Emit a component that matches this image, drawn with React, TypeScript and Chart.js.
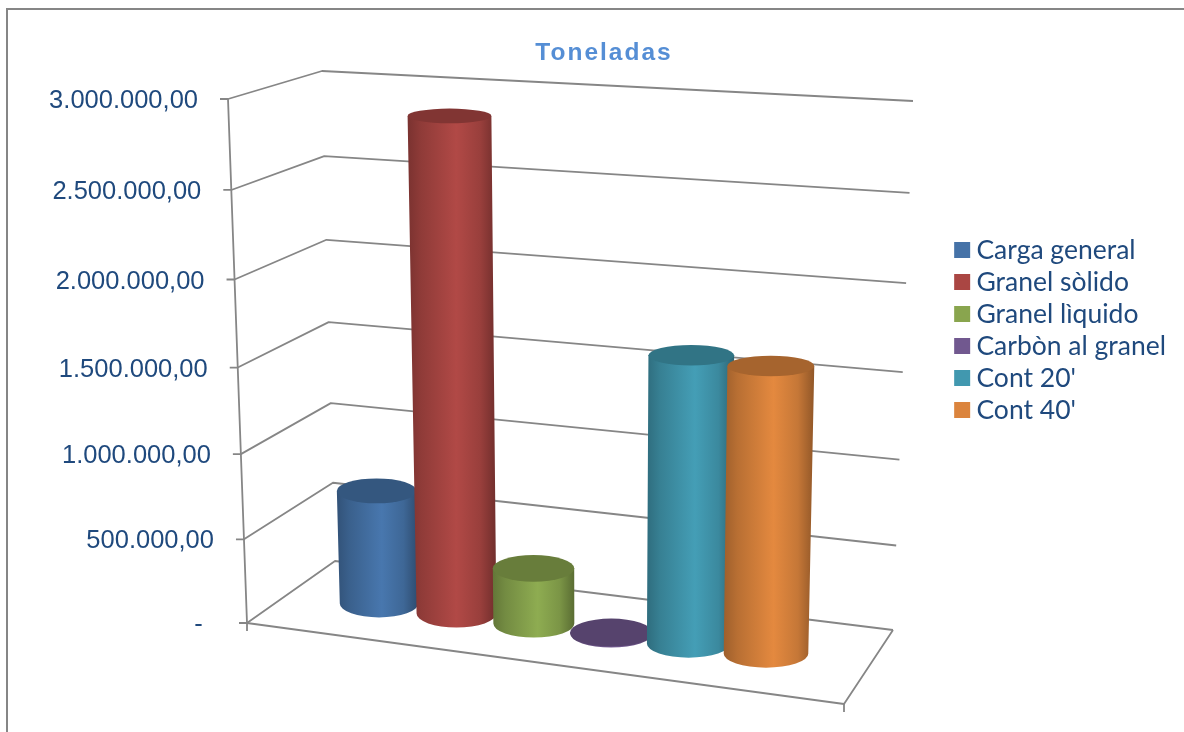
import React, { useEffect, useRef } from "react";
import { Chart, registerables, BarController, BarElement, LinearScale } from "chart.js";

const categories = ["Toneladas"];
const seriesNames = ["Carga general", "Granel sòlido", "Granel lìquido", "Carbòn al granel", "Cont 20'", "Cont 40'"];
const seriesValues = [684000, 2881000, 330000, 6000, 1650000, 1630000];
const seriesColors = ["#4572A7", "#AA4643", "#89A54E", "#71588F", "#4198AF", "#DB843D"];
const axisMax = 3000000;
const axisStep = 500000;

// Corners of the 3D plot box on the canvas: front/back, bottom/top, left/right.
const box = {
  flb: [247, 623], flt: [228, 99], blb: [335, 561], blt: [322, 71],
  frb: [844, 704], frt: [853, 134], brb: [893, 630], brt: [913, 101],
};
const columnDepth = 0.5;
const columnShift = -0.0125;

const mix = (a: number, b: number, t: number) => a + (b - a) * t;

// Trilinear position inside the box. u runs left to right, v bottom to top, w front to back.
function project(u: number, v: number, w: number) {
  const axis = (i: number) => {
    const fb = mix(box.flb[i], box.frb[i], u);
    const ft = mix(box.flt[i], box.frt[i], u);
    const bb = mix(box.blb[i], box.brb[i], u);
    const bt = mix(box.blt[i], box.brt[i], u);
    return mix(mix(fb, ft, v), mix(bb, bt, v), w);
  };
  return { x: axis(0), y: axis(1) };
}

// Height foreshortening: the lower part of the axis sits slightly farther away.
const foreshorten = (d: number) => d - 0.05 * d * (1 - d);

function shade(hex: string, k: number) {
  const n = parseInt(hex.slice(1), 16);
  const c = [(n >> 16) & 255, (n >> 8) & 255, n & 255].map((x) => Math.min(255, Math.round(x * k)));
  return `rgb(${c[0]},${c[1]},${c[2]})`;
}

const fraction = (scale: any, value: number) => (value - scale.min) / (scale.max - scale.min);

// Value axis whose ticks follow the slanted front-left edge of the box.
class WallScale extends LinearScale {
  static id = "wall";
  getPixelForValue(value: number) {
    return project(0, foreshorten(fraction(this, value)), 0).y;
  }
  _computeLabelArea() {
    return undefined;
  }
  _computeLabelItems(chartArea: any) {
    const items = super._computeLabelItems(chartArea);
    items.forEach((item: any, i: number) => {
      const d = foreshorten(fraction(this, this.ticks[i].value));
      item.options.translation[0] = project(0, d, 0).x - 30;
      item.options.translation[1] += 2;
      item.options.textAlign = "right";
    });
    return items;
  }
}

class CylinderElement extends BarElement {
  static id = "cylinder";
  draw(ctx: CanvasRenderingContext2D) {
    const { unit, radius, level, options } = this as any;
    const color = options.backgroundColor;
    const h = foreshorten(level);
    const u = unit + columnShift;
    const bottom = project(u, 0, columnDepth);
    const top = project(u, h, columnDepth);
    // Columns farther to the right stand nearer the viewer and look a little wider.
    const nearness = mix(0.95, 1.06, u);
    const span = (v: number) => project(1, v, columnDepth).x - project(0, v, columnDepth).x;
    const rxB = radius * span(0) * nearness;
    const rxT = radius * span(h) * nearness;
    const ryB = 14;
    const ryT = 14 - 7 * h;

    const grad = ctx.createLinearGradient(Math.min(bottom.x - rxB, top.x - rxT), 0, Math.max(bottom.x + rxB, top.x + rxT), 0);
    grad.addColorStop(0, shade(color, 0.72));
    grad.addColorStop(0.15, shade(color, 0.84));
    grad.addColorStop(0.55, shade(color, 1.04));
    grad.addColorStop(0.82, shade(color, 0.9));
    grad.addColorStop(1, shade(color, 0.66));

    ctx.save();
    ctx.fillStyle = grad;
    ctx.beginPath();
    ctx.moveTo(top.x - rxT, top.y);
    ctx.lineTo(bottom.x - rxB, bottom.y);
    ctx.ellipse(bottom.x, bottom.y, rxB, ryB, 0, Math.PI, 0, true);
    ctx.lineTo(top.x + rxT, top.y);
    ctx.closePath();
    ctx.fill();
    ctx.fillStyle = shade(color, 0.76);
    ctx.beginPath();
    ctx.ellipse(top.x, top.y, rxT, ryT, 0, 0, Math.PI * 2);
    ctx.fill();
    ctx.restore();
  }
}

class CylinderController extends BarController {
  static id = "cylinder";
  static defaults = { ...BarController.defaults, dataElementType: "cylinder" };
  static overrides = BarController.overrides;
  updateElement(element: any, index: number, properties: any, mode: any) {
    const area = this.chart.chartArea;
    const value = this.getParsed(index).y;
    properties.level = fraction(this.getScaleForId("y"), value);
    properties.unit = (properties.x - area.left) / area.width;
    properties.radius = properties.width / area.width / 2;
    super.updateElement(element, index, properties, mode);
  }
  // Columns are painted together by the box plugin so that later series overlap earlier ones.
  draw() {}
}

const boxPlugin = {
  id: "box",
  beforeDraw(chart: any) {
    const { ctx } = chart;
    // The heading is tracked a little wider than the rest of the text.
    const title = chart.titleBlock;
    if (title && !title.tuned) {
      const drawTitle = title.draw;
      title.tuned = true;
      title.draw = function (...args: any[]) {
        ctx.letterSpacing = "2px";
        drawTitle.apply(this, args);
        ctx.letterSpacing = "0px";
      };
    }
    // Legend swatches sit closer to their labels than the library's gap of half a font size.
    const legend = chart.legend;
    if (legend && !legend.tuned) {
      const drawLegend = legend.draw;
      legend.tuned = true;
      legend.draw = function (...args: any[]) {
        const rect = ctx.rect;
        ctx.rect = (x: number, y: number, w: number, h: number) => rect.call(ctx, x + 7, y, w, h);
        drawLegend.apply(this, args);
        delete ctx.rect;
      };
    }
  },
  // Frame, walls, floor and tick marks of the 3D box, laid out from the axis ticks.
  beforeDatasetsDraw(chart: any) {
    const { ctx, scales } = chart;
    const line = (pts: { x: number; y: number }[]) => {
      ctx.beginPath();
      pts.forEach((p, i) => (i ? ctx.lineTo(p.x, p.y) : ctx.moveTo(p.x, p.y)));
      ctx.stroke();
    };
    ctx.save();
    ctx.strokeStyle = "#868686";
    ctx.lineWidth = 2;
    ctx.strokeRect(7, 9, 1400, 1000);
    ctx.lineWidth = 1.8;
    ctx.lineJoin = "round";
    scales.y.ticks.forEach((t: any) => {
      const d = foreshorten(fraction(scales.y, t.value));
      const a = project(0, d, 0);
      line([{ x: a.x - 8, y: a.y }, a, project(0, d, 1), project(1, d, 1)]);
    });
    const fl = project(0, 0, 0);
    const fr = project(1, 0, 0);
    line([project(0, 1, 0), fl, { x: fl.x, y: fl.y + 8 }]);
    line([fl, fr, project(1, 0, 1)]);
    line([fr, { x: fr.x, y: fr.y + 8 }]);
    ctx.restore();
  },
  afterDatasetsDraw(chart: any) {
    chart.getSortedVisibleDatasetMetas().forEach((meta: any) => {
      meta.data.forEach((el: any) => el.draw(chart.ctx));
    });
  },
};

Chart.register(...registerables, WallScale, CylinderElement, CylinderController);

export default function App() {
  const ref = useRef<HTMLCanvasElement>(null);
  useEffect(() => {
    const chart = new Chart(ref.current!, {
      type: "cylinder" as any,
      data: {
        labels: categories,
        datasets: seriesNames.map((label, i) => ({
          label,
          data: [seriesValues[i]],
          backgroundColor: seriesColors[i],
          borderWidth: 0,
          categoryPercentage: 0.804,
          barPercentage: 1.05,
        })),
      },
      options: {
        responsive: false,
        animation: false,
        events: [],
        layout: { padding: { left: 32, right: 8, top: 0, bottom: 72 } },
        scales: {
          x: { type: "category", display: false },
          y: {
            type: "wall" as any,
            min: 0,
            max: axisMax,
            grid: { display: false },
            border: { display: false },
            ticks: {
              stepSize: axisStep,
              autoSkip: false,
              color: "#1F497D",
              font: { family: "Liberation Sans", size: 25.5 },
              callback: (v: any) =>
                v === 0
                  ? "-  "
                  : Number(v).toLocaleString("de-DE", { minimumFractionDigits: 2, maximumFractionDigits: 2 }),
            },
          },
        },
        plugins: {
          tooltip: { enabled: false },
          title: {
            display: true,
            text: "Toneladas",
            color: "#558ED5",
            font: { family: "Liberation Sans", size: 24.5, weight: "bold" },
            padding: { top: 39, bottom: 10 },
          },
          legend: {
            position: "right",
            labels: {
              boxWidth: 16,
              boxHeight: 16,
              padding: 5.5,
              color: "#1F497D",
              font: { family: "Lato", size: 26.5 },
            },
          },
        },
      },
      plugins: [boxPlugin],
    } as any);
    return () => chart.destroy();
  }, []);
  return (
    <canvas
      ref={ref}
      width={1184}
      height={732}
      style={{ position: "fixed", left: 0, top: 0, width: 1184, height: 732, background: "#fff" }}
    />
  );
}
